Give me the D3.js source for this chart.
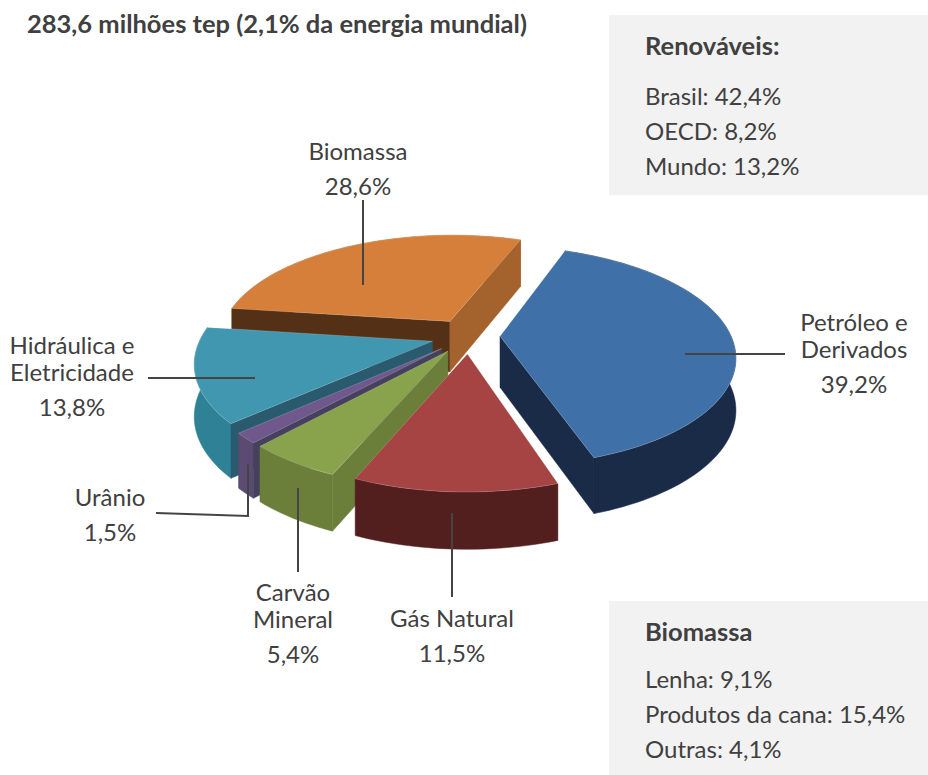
<!DOCTYPE html>
<html>
<head>
<meta charset="utf-8">
<script src="https://cdn.jsdelivr.net/npm/d3@7"></script>
<style>
  html, body { margin: 0; background: #fff; overflow: hidden; }
  text { font-family: Lato, sans-serif; fill: #404040; }
</style>
</head>
<body>
<div id="chart"></div>
<script>
const sources = ["Petróleo e Derivados", "Gás Natural", "Carvão Mineral", "Urânio", "Hidráulica e Eletricidade", "Biomassa"];
const shares = [39.2, 11.5, 5.4, 1.5, 13.8, 28.6];

const renewablesRows = ["Brasil: 42,4%", "OECD: 8,2%", "Mundo: 13,2%"];
const biomassRows = ["Lenha: 9,1%", "Produtos da cana: 15,4%", "Outras: 4,1%"];

const width = 928, height = 775;
const svg = d3.select("#chart").append("svg")
    .attr("width", width)
    .attr("height", height);

// tilted pie, with some perspective so that the front looks bigger
const cx = 469, cy = 336, R = 231, tilt = 0.46, camera = 1300, thickness = 51;
const explode = [31, 38, 38, 38, 38, 38];
const faceColors = ["#3f71a8", "#a64343", "#88a34b", "#70588c", "#4196b0", "#d67f3a"];
const outerColors = ["#1a2b47", "#521e1e", "#6b7f3b", "#5b4a72", "#2f8296", "#a4622d"];
const startWall = ["#1a2b47", "#521e1e", "#6b7f3b", "#45405c", "#2a5a6e", "#543116"];
const endWall = ["#1a2b47", "#521e1e", "#6b7f3b", "#5b4a72", "#2a5a6e", "#a4622d"];
const paintOrder = [5, 0, 4, 3, 2, 1];

const rotation = 20.5 * Math.PI / 180;
const pie = d3.pie().sort(null)
    .startAngle(rotation)
    .endAngle(rotation + 2 * Math.PI);
const slices = pie(shares);

function project(x, y, h) {
  const s = camera / (camera - y);
  return [cx + x * s, cy + y * tilt * s + h * Math.sqrt(s)];
}

const line = d3.line();

slices.forEach(d => {
  const mid = (d.startAngle + d.endAngle) / 2;
  const off = explode[d.index];
  d.ox = off * Math.sin(mid);
  d.oy = -off * Math.cos(mid);
  const steps = Math.max(4, Math.ceil((d.endAngle - d.startAngle) / 0.03));
  d.rim = d3.range(steps + 1).map(i => {
    const a = d.startAngle + (d.endAngle - d.startAngle) * i / steps;
    return [d.ox + R * Math.sin(a), d.oy - R * Math.cos(a)];
  });
});

const at = (p, h) => project(p[0], p[1], h);
const pieG = svg.append("g");

paintOrder.forEach(i => {
  const d = slices[i];
  const g = pieG.append("g");
  const apex = [d.ox, d.oy];
  const first = d.rim[0], last = d.rim[d.rim.length - 1];

  const wall = (a, b, color) => g.append("path")
      .attr("d", line([at(a, 0), at(b, 0), at(b, thickness), at(a, thickness)]) + "Z")
      .attr("fill", color).attr("stroke", color).attr("stroke-width", 0.5);

  g.append("path")
      .attr("d", line(d.rim.map(p => at(p, 0)).concat(d.rim.slice().reverse().map(p => at(p, thickness)))) + "Z")
      .attr("fill", outerColors[i]).attr("stroke", outerColors[i]).attr("stroke-width", 0.5);

  // only the cut faces turned to the viewer get drawn
  if (Math.cos(d.startAngle - Math.PI / 2) < 0) wall(apex, first, startWall[i]);
  if (Math.cos(d.endAngle + Math.PI / 2) < 0) wall(apex, last, endWall[i]);

  g.append("path")
      .attr("d", line([at(apex, 0)].concat(d.rim.map(p => at(p, 0)))) + "Z")
      .attr("fill", faceColors[i])
      .attr("stroke", "#fff")
      .attr("stroke-opacity", 0.3)
      .attr("stroke-width", 0.6);
});

// leader lines
const leaders = [
  [[363, 200], [363, 285]],
  [[685, 354], [785, 354]],
  [[452, 513], [452, 597]],
  [[298, 488], [298, 572]],
  [[156, 513], [248, 516], [248, 464]],
  [[148, 378], [255, 378]]
];
svg.append("g").selectAll("path")
    .data(leaders)
    .join("path")
    .attr("d", d => line(d))
    .attr("fill", "none")
    .attr("stroke", "#444")
    .attr("stroke-width", 2);

// pie labels
const labels = [
  { x: 358, lines: [["Biomassa", 160], ["28,6%", 195]] },
  { x: 854, lines: [["Petróleo e", 331], ["Derivados", 358], ["39,2%", 393]] },
  { x: 452, lines: [["Gás Natural", 627], ["11,5%", 662]] },
  { x: 293, lines: [["Carvão", 601], ["Mineral", 628], ["5,4%", 663]] },
  { x: 110, lines: [["Urânio", 506], ["1,5%", 541]] },
  { x: 72, lines: [["Hidráulica e", 354], ["Eletricidade", 381], ["13,8%", 416]] }
];
labels.forEach(l => {
  l.lines.forEach(t => {
    svg.append("text")
        .attr("x", l.x).attr("y", t[1])
        .attr("text-anchor", "middle")
        .style("font-size", "24px")
        .text(t[0]);
  });
});

svg.append("text")
    .attr("x", 27).attr("y", 33)
    .style("font-size", "25.5px")
    .style("font-weight", "700")
    .text("283,6 milhões tep (2,1% da energia mundial)");

// side boxes
function sideBox(y, h, title, titleY, rows, rowYs) {
  svg.append("rect")
      .attr("x", 609).attr("y", y)
      .attr("width", width - 609).attr("height", h)
      .attr("fill", "#f2f2f2");
  svg.append("text")
      .attr("x", 645).attr("y", titleY)
      .style("font-size", "25.5px").style("font-weight", "700")
      .text(title);
  rows.forEach((r, i) => {
    svg.append("text")
        .attr("x", 645).attr("y", rowYs[i])
        .style("font-size", "24px")
        .text(r);
  });
}
sideBox(15, 180, "Renováveis:", 55, renewablesRows, [105, 140, 175]);
sideBox(601, 174, "Biomassa", 641, biomassRows, [688, 723, 758]);
</script>
</body>
</html>
